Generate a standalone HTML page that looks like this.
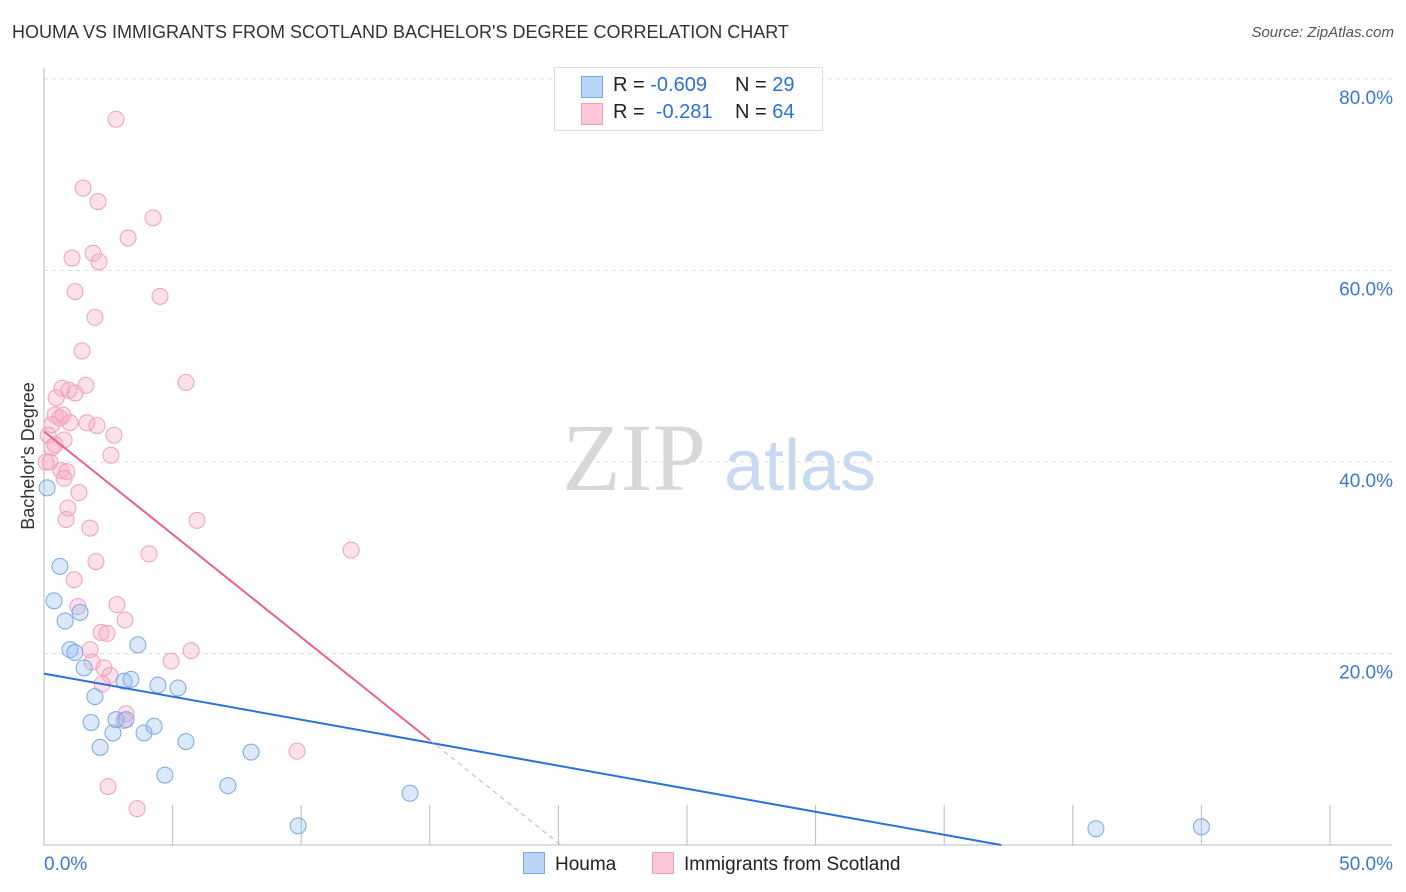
<!DOCTYPE html>
<html><head><meta charset="utf-8">
<style>
body{margin:0;background:#fff;font-family:"Liberation Sans",sans-serif;}
#wrap{position:relative;width:1406px;height:892px;overflow:hidden;}
.t{position:absolute;white-space:nowrap;}
</style></head>
<body>
<div id="wrap">
<div class="t" style="left:12px;top:22px;font-size:18px;color:#333;">HOUMA VS IMMIGRANTS FROM SCOTLAND BACHELOR'S DEGREE CORRELATION CHART</div>
<div class="t" style="right:12px;top:24px;font-size:15px;color:#555;font-style:italic;">Source: ZipAtlas.com</div>
<svg id="svg" width="1406" height="892" style="position:absolute;left:0;top:0"></svg>
</div>
<script>
const houmaX=[0.12,0.62,0.39,0.82,1.4,1.01,1.2,1.56,1.98,1.83,2.18,2.68,2.8,3.11,3.38,3.19,3.65,3.89,4.28,4.43,5.21,5.52,4.7,7.15,8.05,9.88,14.23,40.9,45.0];
const houmaY=[37.3,29.1,25.5,23.4,24.3,20.4,20.1,18.5,15.5,12.8,10.2,11.7,13.1,17.1,17.3,13.1,20.9,11.7,12.4,16.7,16.4,10.8,7.3,6.2,9.7,2.0,5.4,1.7,1.9];
const scotX=[2.8,1.52,2.1,4.24,3.27,1.09,1.91,2.14,1.21,4.51,1.98,1.48,5.52,0.7,1.63,1.21,0.97,0.47,0.43,0.62,0.31,0.74,1.01,1.67,2.06,2.72,0.16,0.78,0.31,2.6,0.23,0.66,0.89,0.78,1.36,0.93,0.86,5.95,1.79,11.94,4.08,2.02,1.17,2.84,1.32,3.15,2.22,2.45,1.79,5.72,4.94,1.87,2.33,2.57,2.26,3.19,3.11,9.84,2.49,3.62,0.08,0.43];
const scotY=[75.8,68.6,67.2,65.5,63.4,61.3,61.8,60.9,57.8,57.3,55.1,51.6,48.3,47.7,48.0,47.2,47.5,46.7,44.9,44.6,43.9,44.9,44.1,44.1,43.8,42.8,42.8,42.3,41.5,40.7,40.0,39.1,39.0,38.3,36.8,35.2,34.0,33.9,33.1,30.8,30.4,29.6,27.7,25.1,24.9,23.5,22.2,22.1,20.4,20.3,19.2,19.1,18.5,17.7,16.8,13.7,13.0,9.8,6.1,3.8,40.0,41.8];
const yTicks=[20,40,60,80];
const yTickLabels=["20.0%","40.0%","60.0%","80.0%"];
const xTicks=[0,5,10,15,20,25,30,35,40,45,50];
const trendHouma=[17.9,-0.481];
const trendScot=[43.2,-2.15];
const scotSolidEnd=15;

const NS="http://www.w3.org/2000/svg";
const svg=document.getElementById('svg');
const X=v=>44+v*25.72;
const Y=v=>845-v*9.575;
function mk(tag,attrs,parent){const e=document.createElementNS(NS,tag);for(const k in attrs)e.setAttribute(k,attrs[k]);(parent||svg).appendChild(e);return e;}

yTicks.forEach((v,i)=>{
 const g=mk('line',{x1:44,x2:1392,y1:Y(v),y2:Y(v),stroke:'#ddd','stroke-dasharray':'4,4'});
 
 
 const t=mk('text',{x:1393,y:Y(v)+25,'text-anchor':'end','font-size':19,fill:'#3a78d4','font-family':'Liberation Sans, sans-serif'});
 t.textContent=yTickLabels[i];
 
 
});
const topGrid=mk('line',{x1:44,x2:1392,y1:79,y2:79,stroke:'#ddd','stroke-dasharray':'4,4'});


const ya=mk('line',{x1:44,x2:44,y1:68,y2:845,stroke:'#bbb'});


const xa=mk('line',{x1:44,x2:1392,y1:845,y2:845,stroke:'#bbb'});


xTicks.forEach(v=>{const l=mk('line',{x1:X(v),x2:X(v),y1:805,y2:845,stroke:'#bbb'});
 
 });
const x0=mk('text',{x:44,y:870,'font-size':19,fill:'#3a78d4'});x0.textContent='0.0%';


const x1=mk('text',{x:1393,y:870,'font-size':19,fill:'#3a78d4','text-anchor':'end'});x1.textContent='50.0%';


const yt=mk('text',{x:0,y:0,'font-size':18,fill:'#333','text-anchor':'middle',transform:'translate(34,456) rotate(-90)'});yt.textContent="Bachelor's Degree";


const w1=mk('text',{x:634,y:490,'font-size':96,fill:'#d8d8d8','font-family':'Liberation Serif, serif','text-anchor':'middle'});w1.textContent='ZIP';


const w2=mk('text',{x:800,y:490,'font-size':72,fill:'#c8daf2','text-anchor':'middle'});w2.textContent='atlas';



scotX.forEach((v,i)=>{const c=mk('circle',{cx:X(v),cy:Y(scotY[i]),r:8,fill:'rgba(245,170,195,0.35)',stroke:'#f0a0bc','stroke-width':1});
 
 });
houmaX.forEach((v,i)=>{const c=mk('circle',{cx:X(v),cy:Y(houmaY[i]),r:8,fill:'rgba(150,190,240,0.35)',stroke:'#7aa8e0','stroke-width':1});
 
 });

const hEnd=-trendHouma[0]/trendHouma[1];
const hl=mk('line',{x1:X(0),y1:Y(trendHouma[0]),x2:X(hEnd),y2:Y(0),stroke:'#2a72d8','stroke-width':2});


const sl=mk('line',{x1:X(0),y1:Y(trendScot[0]),x2:X(scotSolidEnd),y2:Y(trendScot[0]+trendScot[1]*scotSolidEnd),stroke:'#e8608e','stroke-width':2});


const sEnd=-trendScot[0]/trendScot[1];
const sd=mk('line',{x1:X(scotSolidEnd),y1:Y(trendScot[0]+trendScot[1]*scotSolidEnd),x2:X(sEnd),y2:Y(0),stroke:'#e8a0b8','stroke-width':1,'stroke-dasharray':'5,4'});


</script>
<div class="t" style="left:554px;top:67px;width:267px;height:62px;border:1px solid #ddd;background:#fff;font-size:20px;color:#222;">
 <div style="position:absolute;left:26px;top:8px;width:20px;height:20px;background:#b8d4f6;border:1px solid #7aa8e0;"></div>
 <div style="position:absolute;left:58px;top:6px;">R = <span style="color:#2a72d8">-0.609</span></div>
 <div style="position:absolute;left:180px;top:6px;">N = <span style="color:#2a72d8">29</span></div>
 <div style="position:absolute;left:26px;top:35px;width:20px;height:20px;background:#fcc8d8;border:1px solid #f0a0bc;"></div>
 <div style="position:absolute;left:58px;top:33px;">R = &nbsp;<span style="color:#2a72d8">-0.281</span></div>
 <div style="position:absolute;left:180px;top:33px;">N = <span style="color:#2a72d8">64</span></div>
</div>
<div class="t" style="left:523px;top:852px;font-size:19px;color:#222;">
 <span style="display:inline-block;width:20px;height:20px;background:#b8d4f6;border:1px solid #7aa8e0;vertical-align:-4px;margin-right:10px;"></span>Houma</div>
<div class="t" style="left:652px;top:852px;font-size:19px;color:#222;">
 <span style="display:inline-block;width:20px;height:20px;background:#fcc8d8;border:1px solid #f0a0bc;vertical-align:-4px;margin-right:10px;"></span>Immigrants from Scotland</div>
</body></html>
